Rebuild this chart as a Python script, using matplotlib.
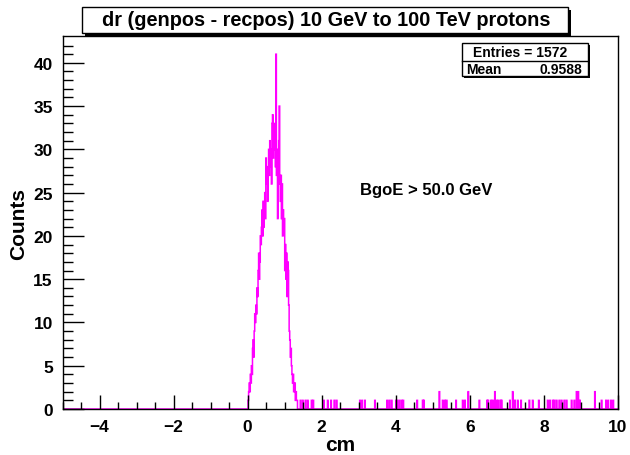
"""dr (genpos - recpos) histogram, ROOT style."""

import matplotlib
import numpy as np

matplotlib.use("Agg")
import matplotlib.pyplot as plt
from matplotlib.patches import Rectangle

plt.rcParams["font.family"] = ["Liberation Sans", "DejaVu Sans"]
plt.rcParams["font.weight"] = "bold"

W, H = 630, 456
MAGENTA = "#ff00ff"

# histogram binning: 1000 bins from -5 to 10 cm
X_MIN, X_MAX, N_BINS = -5.0, 10.0, 1000

# counts per bin, starting at the bin that begins at 0 cm
core_counts = [
    0, 1, 2, 3, 2,
    4, 3, 5, 4, 7,
    8, 6, 9, 11, 10, 12, 11,
    14, 13, 16, 18, 15, 17, 20,
    19, 21, 23, 20, 24, 21, 23,
    25, 22, 29, 26, 28, 24, 27,
    30, 27, 31, 28, 30, 26, 33,
    34, 29, 33, 30, 32, 28,
    41,
    27, 30, 22, 29, 31, 35, 26,
    24, 27, 22, 26, 20, 23, 21,
    22, 16, 19, 15, 18, 13, 17,
    16, 12, 9, 8, 6, 7, 5,
    4, 3, 4, 2, 2, 3, 1,
    2, 1,
]

# sparse tail entries beyond the peak (cm, counts)
tail_pos = [
    1.335, 1.43, 1.49, 1.56, 1.62, 1.72, 1.77,
    2.057, 2.165, 2.255, 2.345, 2.40,
    3.03, 3.09, 3.16, 3.44,
    3.77, 3.83, 3.89, 4.0, 4.04, 4.09, 4.16, 4.20,
    4.58, 4.72, 4.76,
    5.17, 5.26, 5.32, 5.37, 5.62, 5.80, 5.86, 5.96, 6.25,
    6.46, 6.50, 6.565, 6.61, 6.67, 6.72, 6.76, 6.82, 6.86,
    7.08, 7.15, 7.22, 7.29, 7.38, 7.60, 7.69, 7.855,
    8.10, 8.16, 8.23, 8.28, 8.34, 8.41, 8.48, 8.55, 8.61,
    8.75, 8.82, 8.88, 8.93, 8.97,
    9.38, 9.56, 9.68, 9.74, 9.81, 9.87,
]
tail_counts = [
    1, 1, 1, 1, 1, 1, 1,
    1, 1, 1, 1, 1,
    1, 1, 1, 1,
    1, 1, 1, 1, 1, 1, 1, 1,
    1, 1, 1,
    2, 1, 1, 1, 1, 1, 1, 2, 1,
    1, 1, 1, 1, 2, 1, 1, 1, 1,
    1, 2, 1, 1, 1, 1, 1, 1,
    1, 1, 1, 1, 1, 1, 1, 1, 1,
    1, 1, 2, 2, 1,
    2, 1, 1, 1, 1, 1,
]

title = "dr (genpos - recpos) 10 GeV to 100 TeV protons"
cut_label = "BgoE > 50.0 GeV"
entries = 1572
mean = 0.9588


def px(x, y):
    return x / W, 1 - y / H


edges = np.linspace(X_MIN, X_MAX, N_BINS + 1)
width = edges[1] - edges[0]
zero_bin = int(round((0.0 - X_MIN) / width))
centers = []
weights = []
for i, c in enumerate(core_counts):
    centers.append(edges[zero_bin + i] + width / 2)
    weights.append(c)
centers.extend(tail_pos)
weights.extend(tail_counts)

fig = plt.figure(figsize=(W / 100, H / 100), dpi=100)
l, b = px(62.5, 410)
r, t = px(618, 37)
ax = fig.add_axes([l, b, r - l, t - b])

hist, _ = np.histogram(centers, bins=edges, weights=weights)
ax.stairs(hist, edges, color=MAGENTA, lw=1.1, baseline=None)

ax.set_xlim(X_MIN, X_MAX)
ax.set_ylim(0, 43.1)
ax.set_xticks(np.arange(-4, 11, 2))
ax.set_xticks(np.arange(-5, 10.01, 0.5), minor=True)
ax.set_yticks(np.arange(0, 41, 5))
ax.set_yticks(np.arange(0, 43, 1), minor=True)
ax.tick_params(axis="x", which="major", direction="in", length=10, width=1,
               labelsize=12.5, pad=7)
ax.tick_params(axis="x", which="minor", direction="in", length=5, width=1)
ax.tick_params(axis="y", which="major", direction="in", length=15, width=1,
               labelsize=12.5, pad=7)
ax.tick_params(axis="y", which="minor", direction="in", length=7, width=1)
for spine in ax.spines.values():
    spine.set_linewidth(1)
ax.set_xlabel("cm", fontsize=15, fontweight="bold", labelpad=1)
ax.set_ylabel("Counts", fontsize=15, fontweight="bold", labelpad=4)

ax.text(*px(360, 190), cut_label, transform=fig.transFigure, fontsize=12,
        fontweight="bold", ha="left", va="center")


def shadow_box(x0, y0, x1, y1, off=3):
    sx, sy = px(x0 + off, y1 + off)
    ex, ey = px(x1 + off, y0 + off)
    fig.patches.append(Rectangle((sx, sy), ex - sx, ey - sy, transform=fig.transFigure,
                                 facecolor="black", edgecolor="none", zorder=5))
    bx, by = px(x0, y1)
    tx, ty = px(x1, y0)
    fig.patches.append(Rectangle((bx, by), tx - bx, ty - by, transform=fig.transFigure,
                                 facecolor="white", edgecolor="black", lw=1, zorder=6))


# title box
shadow_box(82, 8, 568, 34, off=3)
fig.text(*px(326, 21), title, fontsize=14.3, fontweight="bold", ha="center",
         va="center", zorder=7)

# stats box
shadow_box(462, 44, 588, 77, off=2)
fig.lines.append(plt.Line2D([462 / W, 588 / W], [1 - 61.5 / H] * 2,
                            transform=fig.transFigure, color="black", lw=1, zorder=7))
fig.text(*px(520, 53), f"Entries = {entries}", fontsize=10, fontweight="bold",
         ha="center", va="center", zorder=7)
fig.text(*px(466, 69.5), "Mean", fontsize=10, fontweight="bold",
         ha="left", va="center", zorder=7)
fig.text(*px(582, 69.5), f"{mean:.4f}", fontsize=10, fontweight="bold",
         ha="right", va="center", zorder=7)

fig.savefig("out.png", dpi=100)
